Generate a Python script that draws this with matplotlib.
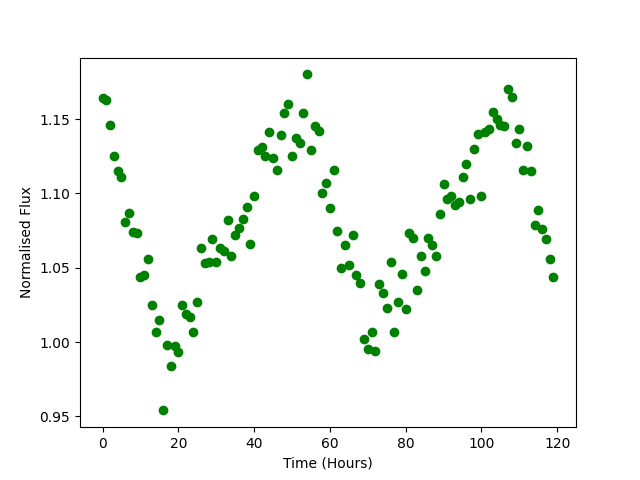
import numpy as np
import matplotlib
matplotlib.use("Agg")
import matplotlib.pyplot as plt

# one reading per hour
hours = np.arange(0, 120)

flux = [
    1.164, 1.163, 1.146, 1.125, 1.115, 1.111, 1.081, 1.087, 1.074, 1.073,
    1.044, 1.045, 1.056, 1.025, 1.007, 1.015, 0.954, 0.998, 0.984, 0.997,
    0.993, 1.025, 1.019, 1.017, 1.007, 1.027, 1.063, 1.053, 1.054, 1.069,
    1.054, 1.063, 1.061, 1.082, 1.058, 1.072, 1.077, 1.083, 1.091, 1.066,
    1.098, 1.129, 1.131, 1.125, 1.141, 1.124, 1.116, 1.139, 1.154, 1.160,
    1.125, 1.137, 1.134, 1.154, 1.180, 1.129, 1.145, 1.142, 1.100, 1.107,
    1.090, 1.116, 1.075, 1.050, 1.065, 1.052, 1.072, 1.045, 1.040, 1.002,
    0.995, 1.007, 0.994, 1.039, 1.033, 1.023, 1.054, 1.007, 1.027, 1.046,
    1.022, 1.073, 1.070, 1.035, 1.058, 1.048, 1.070, 1.065, 1.058, 1.086,
    1.106, 1.096, 1.098, 1.092, 1.094, 1.111, 1.120, 1.096, 1.130, 1.140,
    1.098, 1.141, 1.143, 1.155, 1.150, 1.146, 1.145, 1.170, 1.165, 1.134,
    1.143, 1.116, 1.132, 1.115, 1.079, 1.089, 1.076, 1.069, 1.056, 1.044,
]

fig, ax = plt.subplots(figsize=(6.4, 4.8), dpi=100)
ax.plot(hours, flux, 'o', color='green')
ax.set_xlabel("Time (Hours)")
ax.set_ylabel("Normalised Flux")
fig.savefig("out.png")
